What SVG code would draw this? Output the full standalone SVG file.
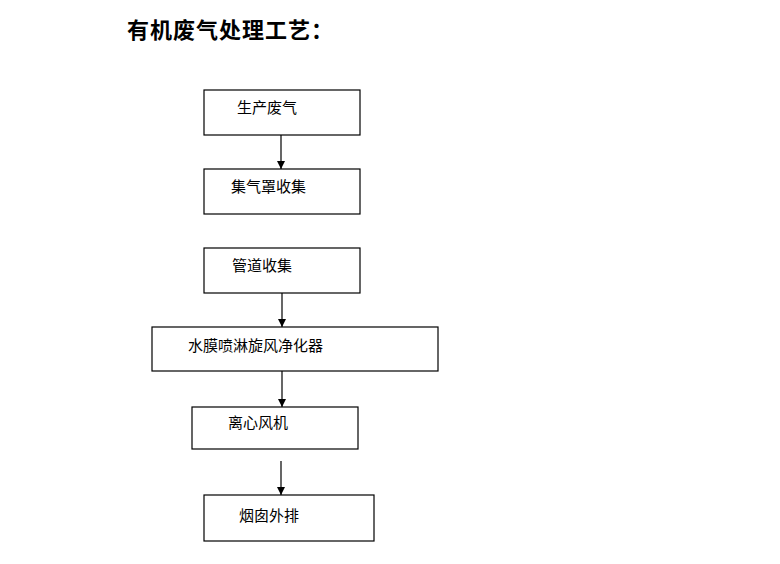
<svg xmlns="http://www.w3.org/2000/svg" width="780" height="564" viewBox="0 0 780 564">
<style>
.box{fill:#fff;stroke:#000;stroke-width:1.2}
.lbl{font-family:"Noto Sans CJK SC","Liberation Sans",sans-serif;font-size:15px;fill:#000}
.title{font-family:"Noto Sans CJK SC","Liberation Sans",sans-serif;font-size:22px;font-weight:bold;fill:#000;letter-spacing:1px}
.conn{stroke:#000;stroke-width:1.2;fill:none;marker-end:url(#arr)}
</style>
<defs>
<marker id="arr" viewBox="0 0 10 10" refX="10" refY="5" markerWidth="8" markerHeight="8" markerUnits="userSpaceOnUse" orient="auto">
<path d="M0,0 L10,5 L0,10 z" fill="#000"/>
</marker>
</defs>
<rect width="780" height="564" fill="#fff"/>
<text class="title" x="127" y="38">有机废气处理工艺：</text>
<g id="n1"><rect class="box" x="204" y="90" width="156" height="45"/><text class="lbl" x="237" y="113">生产废气</text></g>
<g id="n2"><rect class="box" x="204" y="169" width="156" height="45"/><text class="lbl" x="231" y="192">集气罩收集</text></g>
<g id="n3"><rect class="box" x="204" y="248" width="156" height="45"/><text class="lbl" x="232" y="271">管道收集</text></g>
<g id="n4"><rect class="box" x="152" y="327" width="286" height="44"/><text class="lbl" x="188" y="351">水膜喷淋旋风净化器</text></g>
<g id="n5"><rect class="box" x="192" y="407" width="166" height="42"/><text class="lbl" x="228" y="428">离心风机</text></g>
<g id="n6"><rect class="box" x="204" y="495" width="170" height="46"/><text class="lbl" x="239" y="521">烟囱外排</text></g>
<g id="connectors">
<line class="conn" x1="281" y1="135" x2="281" y2="169"/>
<line class="conn" x1="282" y1="293" x2="282" y2="327"/>
<line class="conn" x1="282" y1="371" x2="282" y2="407"/>
<line class="conn" x1="281" y1="461" x2="281" y2="495"/>
</g>
</svg>
